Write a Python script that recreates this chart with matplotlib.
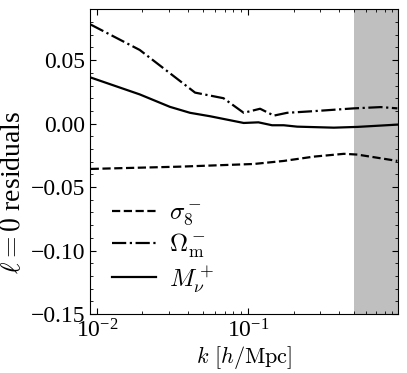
import numpy as np
import matplotlib
matplotlib.use('Agg')
import matplotlib.pyplot as plt

plt.rcParams['font.family'] = 'serif'
plt.rcParams['font.serif'] = ['Liberation Serif', 'DejaVu Serif']
plt.rcParams['mathtext.fontset'] = 'cm'

# residuals
k_s8 = [0.0091, 0.0355, 0.109, 0.172, 0.272, 0.43, 0.528, 0.97]
r_s8 = [-0.0357, -0.0339, -0.0318, -0.0294, -0.026, -0.0238, -0.0244, -0.0294]

k_om = [0.0091, 0.0192, 0.0446, 0.0687, 0.0935, 0.120, 0.148, 0.181, 0.271, 0.50, 0.753, 0.97]
r_om = [0.078, 0.058, 0.0244, 0.020, 0.0085, 0.0117, 0.0063, 0.0085, 0.0098, 0.012, 0.013, 0.012]

k_mnu = [0.0091, 0.0192, 0.0304, 0.0413, 0.056, 0.0935, 0.117, 0.144, 0.172, 0.211, 0.369, 0.528, 0.97]
r_mnu = [0.0363, 0.023, 0.0132, 0.0085, 0.0058, 0.0005, 0.001, -0.0013, -0.0013, -0.0024, -0.0032, -0.0026, -0.0008]

kmax_fit = 0.5

fig = plt.figure(figsize=(4.07, 3.73), dpi=100)
ax = fig.add_axes([0.221, 0.158, 0.757, 0.817])

ax.axvspan(kmax_fit, 1.0, color='#bfbfbf', lw=0)
ax.plot(k_s8, r_s8, 'k--', lw=1.6, label=r'$\sigma_8^-$')
ax.plot(k_om, r_om, 'k-.', lw=1.6, label=r'$\Omega_{\rm m}^-$')
ax.plot(k_mnu, r_mnu, 'k-', lw=1.6, label=r'$M_\nu^+$')

ax.set_xscale('log')
ax.set_xlim(0.009, 0.98)
ax.set_ylim(-0.15, 0.09)
ax.set_yticks([-0.15, -0.10, -0.05, 0.00, 0.05])
ax.set_yticks(np.arange(-0.15, 0.091, 0.01), minor=True)
ax.yaxis.set_major_formatter(matplotlib.ticker.FuncFormatter(
    lambda v, p: ('%.2f' % v).replace('-', '\u2212')))

ax.tick_params(which='both', direction='in', top=True, right=True, labelsize=17)
ax.tick_params(which='major', length=4)
ax.tick_params(which='minor', length=2)
for t in ax.get_xticklabels():
    t.set_math_fontfamily('stix')

ax.set_xlabel(r'$k\ [h/\mathrm{Mpc}]$', fontsize=16, labelpad=1)
ax.set_ylabel(r'$\ell = 0$ residuals', fontsize=20)
ax.yaxis.set_label_coords(-0.207, 0.40)

ax.legend(loc='lower left', frameon=False, fontsize=18, handlelength=1.75,
          labelspacing=0.15, handletextpad=0.5, bbox_to_anchor=(0.0, -0.01))

fig.savefig('out.png', dpi=100)
